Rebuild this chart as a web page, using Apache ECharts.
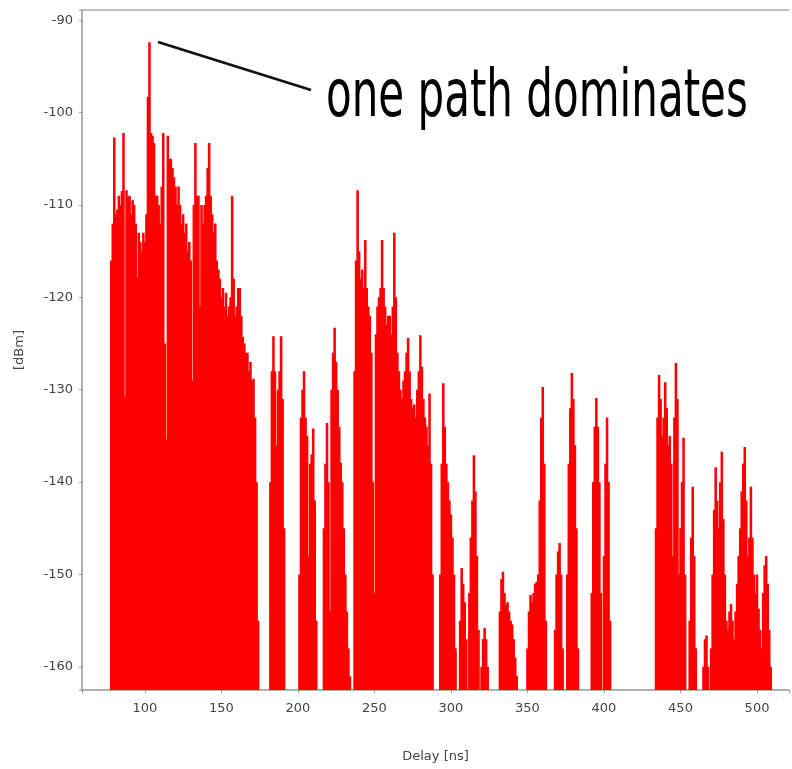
<!DOCTYPE html>
<html><head><meta charset="utf-8">
<script src="https://cdn.jsdelivr.net/npm/echarts@6/dist/echarts.min.js"></script>
<style>html,body{margin:0;padding:0;background:#fff}#c{width:792px;height:769px}</style>
</head><body><div id="c"></div>
<script>
// Delay axis and power axis tick labels
const xTicks = [100, 150, 200, 250, 300, 350, 400, 450, 500];
const yTicks = [-90, -100, -110, -120, -130, -140, -150, -160];
const xName = 'Delay [ns]';
const yName = '[dBm]';
const annotationText = 'one path dominates';

// Power delay profile: each cluster is a run of 1-ns samples starting at clusterStart[i] (ns)
const clusterStart = [78, 182, 201, 217, 237, 293, 306, 312, 320, 332, 350, 368, 376, 392, 400, 434, 456, 465, 470];
const clusterPower = [
  [-116,-112,-102.7,-111,-110.5,-109,-110,-108.5,-102.2,-130.8,
   -108.4,-109.1,-109,-111,-109.5,-110,-112,-117.8,-113,-114,
   -115,-113,-114,-111,-98.3,-92.4,-102.2,-102.5,-103.3,-109,
   -109,-110,-112,-108,-102.2,-125,-135.4,-102.5,-105,-105,
   -106,-107,-108,-110,-108,-110,-112,-111,-113,-112,
   -115,-114,-116,-129,-110,-103.3,-109,-109,-121,-110,
   -112,-110,-109,-106,-103.3,-109,-111,-113,-112,-116,
   -117,-118,-120,-119,-121,-119.5,-122,-121,-120,-109,
   -118,-122,-121,-119,-119,-122,-124.3,-125,-126,-126,
   -128,-127,-129,-128.8,-133,-140,-155],
  [-140,-128,-124.2,-128,-136,-130,-128,-124.2,-131,-145],
  [-150,-133,-130,-128,-133,-135,-148,-138,-137,-134.2,-142,-155],
  [-145,-138,-133.6,-140,-154,-130,-126,-123.3,-127,-130,-134,-137.9,-140,-145,-150,-154,-158,-161],
  [-128,-116,-108.4,-115,-118,-117,-119,-113.8,-119,-121,
   -122,-126,-140,-152,-124,-121,-120,-119,-113.8,-119,
   -121,-123,-122,-122,-124,-121,-113,-120,-126,-128,
   -130,-131,-129,-128,-126,-124.4,-128,-131,-132,-131.6,
   -133,-130,-128,-124.1,-127.5,-131,-133,-134,-136,-130.4,
   -138,-150],
  [-150,-138,-129.3,-134,-138,-140,-142,-143.5,-146,-150,-158],
  [-155,-149.3,-151,-153,-157],
  [-152,-146,-142,-137.1,-141,-148,-156],
  [-160,-157,-155.8,-157,-160],
  [-154,-150.5,-149.7,-152,-153.3,-153,-154,-155,-155.4,-157,-159,-161],
  [-158,-154,-152.2,-153,-152,-151,-150.8,-150,-142,-133,-129.7,-138,-155],
  [-156,-150,-147.5,-146.6,-150,-158],
  [-150,-138,-132,-128.2,-131,-136,-145,-158],
  [-152,-140,-134,-130.9,-134,-140,-152],
  [-148,-138,-133,-140,-155],
  [-145,-133,-128.4,-131,-135,-133,-129.2,-132,-136,-135,
   -138,-148,-133,-127.1,-131,-150,-145,-140,-135.2,-150],
  [-155,-146,-140.5,-148,-158],
  [-160,-157,-156.6,-160],
  [-158,-150,-143,-138.4,-142,-145,-140,-136.7,-144,-150,
   -155,-156,-154,-153.2,-155,-157,-154,-151,-148,-145,
   -141,-138,-136.2,-142,-148,-146,-140.5,-146,-150,-152,
   -150,-153.7,-156,-158,-152,-149,-148,-151,-156,-160]
];

const Y_MIN = -162.5, Y_MAX = -88.9, X_MIN = 58.9, X_MAX = 520.9;

const seriesData = [];
clusterPower.forEach((arr, ci) => {
  arr.forEach((p, k) => { seriesData.push([clusterStart[ci] + k, p]); });
});

const chart = echarts.init(document.getElementById('c'), null, {renderer: 'canvas'});
const labelFont = {fontFamily: 'DejaVu Sans', fontSize: 13, color: '#444'};
chart.setOption({
  animation: false,
  backgroundColor: '#fff',
  grid: {left: 82, top: 10, right: 2, bottom: 79, containLabel: false},
  xAxis: [{
    type: 'value', min: X_MIN, max: X_MAX, splitNumber: 9,
    name: xName, nameLocation: 'middle', nameGap: 60,
    nameTextStyle: labelFont,
    axisLine: {show: true, lineStyle: {color: '#999', width: 1.5}},
    axisTick: {show: true, length: 3, lineStyle: {color: '#999'}},
    splitLine: {show: false},
    axisLabel: Object.assign({margin: 12, formatter: v => xTicks.includes(Math.round(v*1000)/1000) ? String(v) : ''}, labelFont)
  }, {
    type: 'value', position: 'top', min: X_MIN, max: X_MAX,
    axisLine: {show: true, lineStyle: {color: '#aaa', width: 1.5}},
    axisTick: {show: false}, axisLabel: {show: false}, splitLine: {show: false}
  }],
  yAxis: {
    type: 'value', min: Y_MIN, max: Y_MAX, splitNumber: 7,
    name: yName, nameLocation: 'middle', nameGap: 56, nameRotate: 90,
    nameTextStyle: labelFont,
    axisLine: {show: true, lineStyle: {color: '#999', width: 1.5}},
    axisTick: {show: true, length: 3, lineStyle: {color: '#999'}},
    splitLine: {show: false},
    axisLabel: Object.assign({margin: 9, formatter: v => yTicks.includes(Math.round(v*1000)/1000) ? String(v) : ''}, labelFont)
  },
  series: [{
    type: 'custom',
    clip: true,
    data: seriesData,
    renderItem: function (params, api) {
      const x = api.value(0), y = api.value(1);
      const top = api.coord([x, y]);
      const base = api.coord([x, Y_MIN]);
      const w = api.size([1, 0])[0];
      return {
        type: 'rect',
        shape: {x: top[0] - w / 2 - 0.5, y: top[1], width: w + 1, height: base[1] - top[1]},
        style: {fill: '#ff0000', stroke: null, lineWidth: 0}
      };
    }
  }],
  graphic: [
    {type: 'line', shape: {x1: 158, y1: 42, x2: 311, y2: 90}, style: {stroke: '#111', lineWidth: 2.5}},
    {type: 'text', x: 326, y: 67, scaleX: 1, scaleY: 1.55,
     style: {text: annotationText, font: '42px "DejaVu Sans"', fill: '#000', verticalAlign: 'top', align: 'left'}}
  ]
});
</script>
</body></html>
